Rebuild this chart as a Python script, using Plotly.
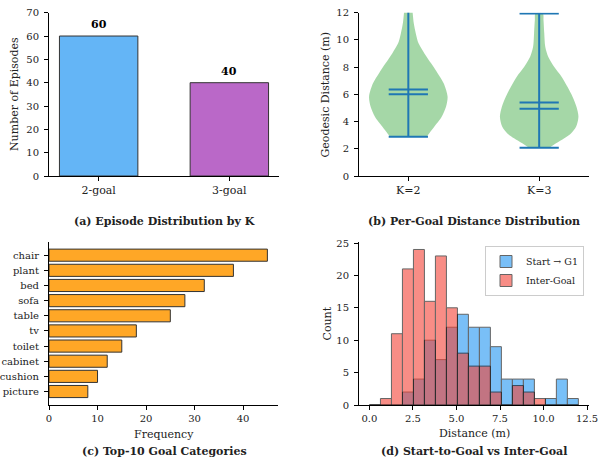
import numpy as np
import plotly.graph_objects as go

W, H = 598, 458
FONT = "DejaVu Serif"

# (a) number of episodes for each goal count
k_labels = ["2-goal", "3-goal"]
k_episodes = [60, 40]
k_colors = ["#64B5F6", "#BA68C8"]

# (b) per-goal geodesic distance, summary statistics and density outline
violin_names = ["K=2", "K=3"]
violin_min = [2.89, 2.08]
violin_max = [12.6, 11.95]
violin_mean = [6.36, 5.41]
violin_median = [6.0, 4.95]
k2_levels = [2.89, 3.13, 3.62, 4.36, 5.09, 5.83, 6.81, 7.54, 8.28, 9.01, 9.75, 10.48, 11.2, 12.0, 12.6]
k2_density = [0.47, 0.53, 0.66, 0.85, 0.96, 1.0, 0.90, 0.75, 0.58, 0.41, 0.26, 0.19, 0.14, 0.11, 0.09]
k3_levels = [2.08, 2.4, 2.77, 3.13, 3.62, 4.36, 5.09, 5.83, 6.56, 7.3, 8.03, 8.77, 9.5, 10.48, 11.46, 11.95]
k3_density = [0.26, 0.43, 0.64, 0.81, 0.94, 1.0, 0.95, 0.85, 0.72, 0.57, 0.38, 0.23, 0.155, 0.13, 0.11, 0.095]

# (c) ten most frequent goal categories
categories = ["chair", "plant", "bed", "sofa", "table", "tv", "toilet", "cabinet", "cushion", "picture"]
cat_freq = [45, 38, 32, 28, 25, 18, 15, 12, 10, 8]

# (d) histogram counts on shared bins
bin_edges = np.linspace(0, 12, 20)
start_g1_counts = [0, 0, 0, 2, 4, 10, 7, 12, 14, 12, 12, 9, 4, 4, 4, 0, 1, 4, 1]
inter_goal_counts = [0, 1, 11, 21, 24, 16, 23, 15, 8, 6, 6, 2, 0, 3, 2, 1, 0, 0, 0]


def px_x(p):
    return p / W


def px_y(p):
    return 1 - p / H


fig = go.Figure()

# ---- (a) bars
fig.add_trace(go.Bar(
    x=k_labels, y=k_episodes, width=0.6,
    marker=dict(color=k_colors, line=dict(color="#333333", width=1)),
    xaxis="x", yaxis="y", showlegend=False,
))

# ---- (b) violins drawn from the density outline
half_width = 0.3
for pos, lv, dens in [(1, k2_levels, k2_density), (2, k3_levels, k3_density)]:
    xs = [pos + half_width * d for d in dens] + [pos - half_width * d for d in dens[::-1]]
    ys = list(lv) + list(lv[::-1])
    fig.add_trace(go.Scatter(
        x=xs, y=ys, mode="lines", fill="toself",
        fillcolor="rgba(76,175,80,0.5)", line=dict(width=0, shape="spline", smoothing=0.8),
        xaxis="x2", yaxis="y2", showlegend=False, hoverinfo="skip",
    ))

cap = 0.15
lx, ly = [], []
for i, pos in enumerate([1, 2]):
    lx += [pos, pos, None]
    ly += [violin_min[i], violin_max[i], None]
    for v in (violin_min[i], violin_max[i], violin_mean[i], violin_median[i]):
        lx += [pos - cap, pos + cap, None]
        ly += [v, v, None]
fig.add_trace(go.Scatter(
    x=lx, y=ly, mode="lines", line=dict(color="#1f77b4", width=2),
    xaxis="x2", yaxis="y2", showlegend=False, hoverinfo="skip",
))

# ---- (c) horizontal bars
fig.add_trace(go.Bar(
    y=categories, x=cat_freq, orientation="h", width=0.8,
    marker=dict(color="#FFA726", line=dict(color="#333333", width=1)),
    xaxis="x3", yaxis="y3", showlegend=False,
))

# ---- (d) overlaid histograms
centers = (bin_edges[:-1] + bin_edges[1:]) / 2
widths = np.diff(bin_edges)
fig.add_trace(go.Bar(
    x=centers, y=start_g1_counts, width=widths, name="Start \u2192 G1",
    marker=dict(color="#2196F3", line=dict(color="black", width=1)),
    opacity=0.6, xaxis="x4", yaxis="y4",
))
fig.add_trace(go.Bar(
    x=centers, y=inter_goal_counts, width=widths, name="Inter-Goal",
    marker=dict(color="#F44336", line=dict(color="black", width=1)),
    opacity=0.6, xaxis="x4", yaxis="y4",
))

axis_base = dict(
    showline=True, linecolor="black", linewidth=1, ticks="outside", ticklen=4,
    tickwidth=0.8, tickcolor="black", showgrid=False, zeroline=False, automargin=False,
    tickfont=dict(family=FONT, size=10, color="#222222"), fixedrange=True,
)
yaxis_base = dict(axis_base, ticklabelstandoff=3)
cat_font = dict(family=FONT, size=11, color="#222222")

top = [px_y(176), px_y(12.7)]
bottom = [px_y(405), px_y(241.7)]

fig.update_layout(
    width=W, height=H, margin=dict(l=0, r=0, t=0, b=0, autoexpand=False),
    paper_bgcolor="white", plot_bgcolor="white", barmode="overlay",
    font=dict(family=FONT, size=11, color="#222222"),
    xaxis=dict(axis_base, domain=[px_x(49), px_x(279)], range=[-0.38, 1.38], anchor="y",
               tickfont=cat_font),
    yaxis=dict(yaxis_base, domain=top, range=[0, 70], dtick=10, anchor="x"),
    xaxis2=dict(axis_base, domain=[px_x(359), px_x(588.5)], range=[0.623, 2.377],
                tickvals=[1, 2], ticktext=violin_names, anchor="y2", tickfont=cat_font),
    yaxis2=dict(yaxis_base, domain=top, range=[0, 12], dtick=2, anchor="x2"),
    xaxis3=dict(axis_base, domain=[px_x(49), px_x(278.3)], range=[0, 47.25], dtick=10, anchor="y3"),
    yaxis3=dict(yaxis_base, domain=bottom, range=[9.89, -0.89], anchor="x3",
                categoryorder="array", categoryarray=categories),
    xaxis4=dict(axis_base, domain=[px_x(359), px_x(588.8)], range=[-0.6, 12.6],
                tickvals=[0, 2.5, 5, 7.5, 10, 12.5], tickformat=".1f", anchor="y4",
                ticklabeloverflow="allow"),
    yaxis4=dict(yaxis_base, domain=bottom, range=[0, 25.2], dtick=5, anchor="x4"),
    legend=dict(x=px_x(584), y=px_y(246), xanchor="right", yanchor="top",
                bgcolor="white", bordercolor="#cccccc", borderwidth=1,
                font=dict(family=FONT, size=9.5, color="#222222"), traceorder="normal"),
)

ann = []
# value labels on (a)
for lab, v in zip(k_labels, k_episodes):
    ann.append(dict(x=lab, y=v, xref="x", yref="y", text=f"<b>{v}</b>", showarrow=False,
                    yanchor="bottom", yshift=3, font=dict(family=FONT, size=11, color="black")))


def label(text, x, y, angle=0, bold=False, size=11):
    ann.append(dict(x=px_x(x), y=px_y(y), xref="paper", yref="paper",
                    text=f"<b>{text}</b>" if bold else text, showarrow=False,
                    textangle=angle, xanchor="center", yanchor="middle",
                    font=dict(family=FONT, size=size, color="#222222")))


label("Number of Episodes", 14, 94, angle=-90)
label("Geodesic Distance (m)", 325.5, 95, angle=-90)
label("Frequency", 163.5, 434)
label("Count", 326.5, 324, angle=-90)
label("Distance (m)", 474, 433.5)
label("(a) Episode Distribution by K", 164, 221.7, bold=True)
label("(b) Per-Goal Distance Distribution", 474, 221.7, bold=True)
label("(c) Top-10 Goal Categories", 164, 451, bold=True)
label("(d) Start-to-Goal vs Inter-Goal", 474, 451, bold=True)
fig.update_layout(annotations=ann)

fig.write_html("out.html")
